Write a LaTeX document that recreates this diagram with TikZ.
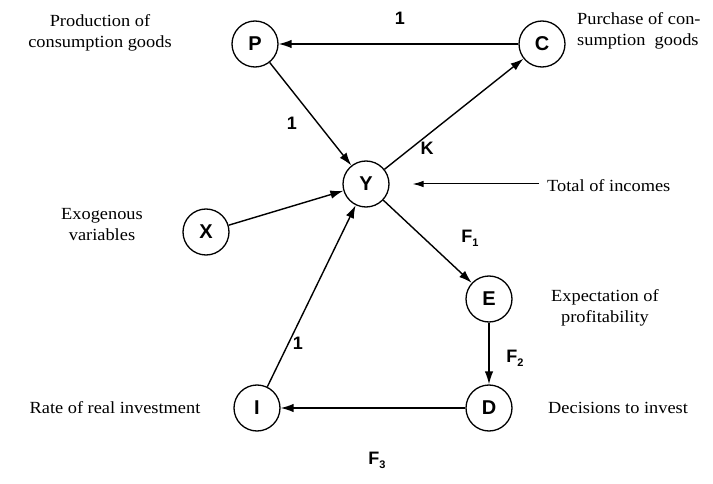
\documentclass[tikz,border=0pt]{standalone}
\usepackage{fontspec}
\setmainfont{Liberation Serif}[FakeStretch=1.08]
\newfontfamily\lblfont{Liberation Sans}
\usetikzlibrary{arrows.meta}
\newcommand{\subidx}[1]{\raisebox{-4pt}{\fontsize{11}{11}\selectfont #1}}
\begin{document}
\begin{tikzpicture}[x=1pt,y=-1pt,
  state/.style={circle,draw,line width=1.3pt,minimum size=46pt,inner sep=0pt,
    font=\lblfont\bfseries\fontsize{20}{20}\selectfont},
  conn/.style={line width=1.4pt,-{Latex[length=13pt,width=8.5pt]}},
  thinconn/.style={line width=1pt,-{Latex[length=11pt,width=6.5pt]}},
  elab/.style={font=\lblfont\bfseries\fontsize{18}{18}\selectfont,inner sep=1pt},
  desc/.style={font=\fontsize{17}{21}\selectfont,align=center,inner sep=0pt}]
\useasboundingbox (0,0) rectangle (713,484);
\node[state] (P) at (255,44) {P};
\node[state] (C) at (542,44) {C};
\node[state] (Y) at (366,184) {Y};
\node[state] (X) at (206,232) {X};
\node[state] (E) at (489,299) {E};
\node[state] (D) at (489,408) {D};
\node[state] (I) at (257,408) {I};
\draw[conn] (C) -- (P);
\draw[conn] (P) -- (Y);
\draw[conn] (Y) -- (C);
\draw[conn] (X) -- (Y);
\draw[conn] (Y) -- (E);
\draw[conn] (E) -- (D);
\draw[conn] (D) -- (I);
\draw[conn] (I) -- (Y);
\coordinate (tin) at (539,184);
\draw[thinconn,shorten >=23pt] (tin) -- (Y);
\node[elab] (l1) at (400,18) {1};
\node[elab] (l2) at (292,123) {1};
\node[elab] (lK) at (427,148) {K};
\node[elab] (lF1) at (470,238) {F\subidx{1}};
\node[elab] (lF2) at (515,358) {F\subidx{2}};
\node[elab] (lF3) at (377,460) {F\subidx{3}};
\node[elab] (l3) at (298,343) {1};
\node[desc] (tP) at (100,33) {Production of\\consumption goods};
\node[desc,anchor=west,align=left] (tC) at (577,31) {Purchase of con-\\sumption\ \ goods};
\node[desc,anchor=west] (tY) at (547,186) {Total of incomes};
\node[desc] (tX) at (102,225) {Exogenous\\variables};
\node[desc] (tE) at (605,308) {Expectation of\\profitability};
\node[desc,anchor=west] (tD) at (548,408) {Decisions to invest};
\node[desc] (tI) at (115,408) {Rate of real investment};
\end{tikzpicture}
\end{document}
